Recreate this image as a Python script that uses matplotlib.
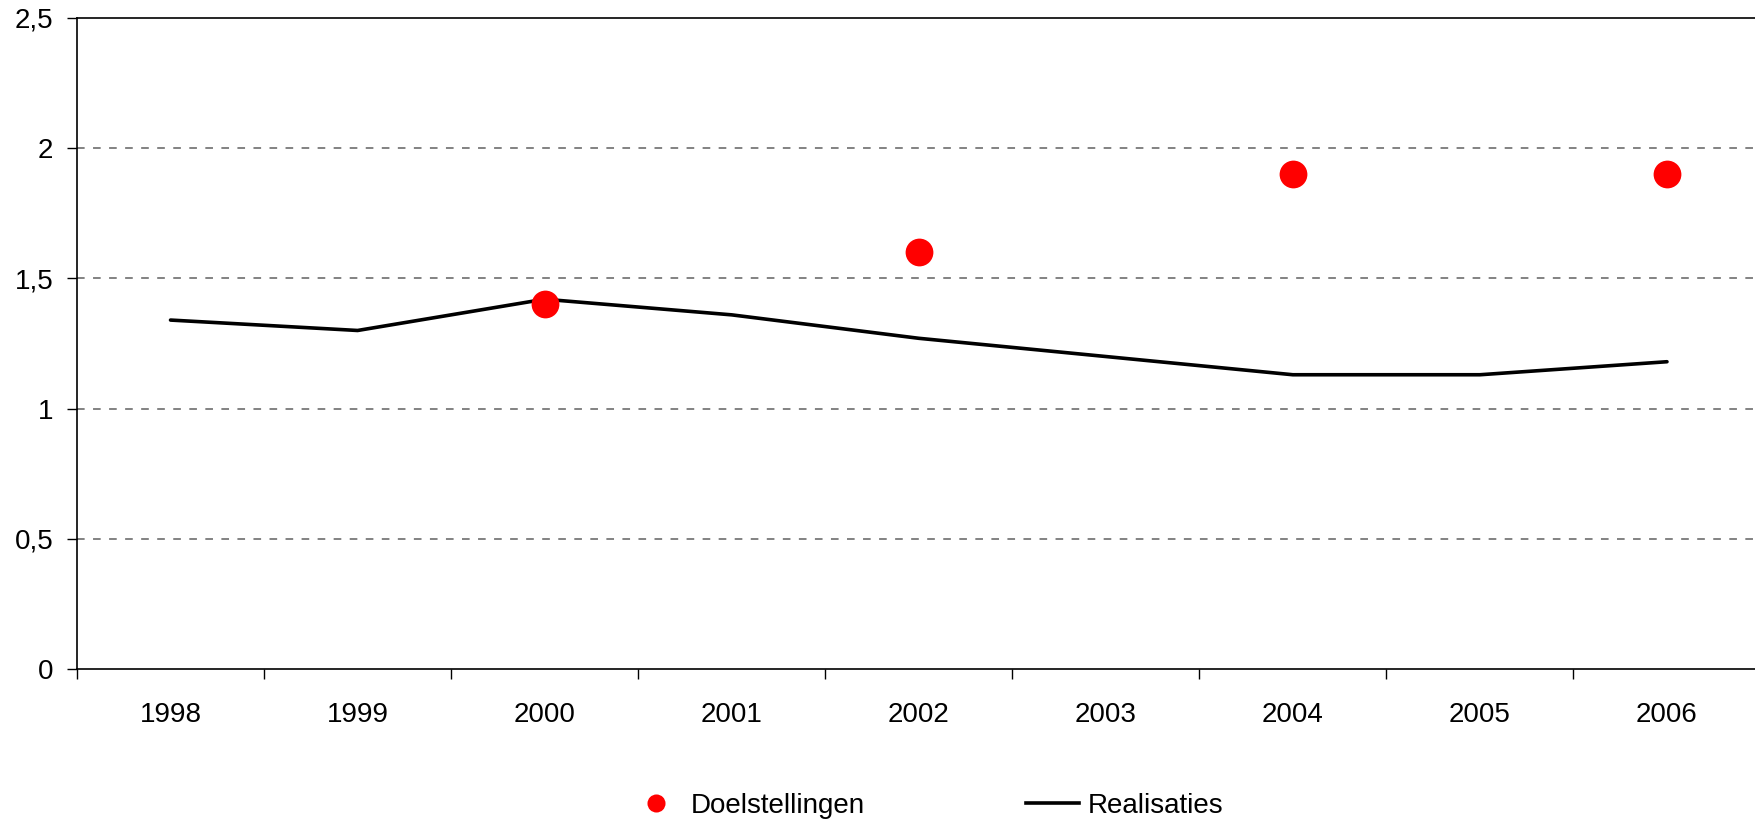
import numpy as np
import matplotlib.pyplot as plt
from matplotlib.lines import Line2D

plt.rcParams['font.family'] = ['Liberation Sans', 'DejaVu Sans']

years = ['1998', '1999', '2000', '2001', '2002', '2003', '2004', '2005', '2006']
realisaties = [1.34, 1.30, 1.42, 1.36, 1.27, 1.20, 1.13, 1.13, 1.18]
doel_years = ['2000', '2002', '2004', '2006']
doelstellingen = [1.4, 1.6, 1.9, 1.9]
y_ticks = [0, 0.5, 1, 1.5, 2, 2.5]
y_labels = ['0', '0,5', '1', '1,5', '2', '2,5']

fig = plt.figure(figsize=(17.56, 8.23), dpi=100)
ax = fig.add_axes([77 / 1756, 1 - 669 / 823, 1683.5 / 1756, 651 / 823])

x = np.arange(len(years))
doel_x = [years.index(y) for y in doel_years]

# grid lines first so the series sit on top
for yv in y_ticks[1:-1]:
    ax.axhline(yv, color='#606060', lw=1.1, ls=(0, (5, 5.5)), zorder=1)

ax.plot(x, realisaties, color='black', lw=2.6, solid_capstyle='round', zorder=3)
ax.plot(doel_x, doelstellingen, 'o', color='#ff0000', ms=20, mec='none', zorder=4)

ax.set_xlim(-0.5, len(years) - 0.5)
ax.set_ylim(0, 2.5)
ax.set_yticks(y_ticks)
ax.set_yticklabels(y_labels)
ax.set_xticks(x)
ax.set_xticklabels(years)
ax.set_xticks(np.arange(-0.5, len(years), 1), minor=True)

ax.tick_params(axis='x', which='major', length=0, pad=24, labelsize=20)
ax.tick_params(axis='x', which='minor', length=7, width=1, direction='out')
ax.tick_params(axis='y', length=7, width=1, direction='out', pad=10, labelsize=20)

for side in ['left', 'bottom', 'top']:
    ax.spines[side].set_color('black')
    ax.spines[side].set_linewidth(1.2)
ax.spines['right'].set_visible(False)

handles = [
    Line2D([], [], marker='o', color='#ff0000', ls='none', ms=13, mec='none'),
    Line2D([], [], color='black', lw=2.6),
]
fig.legend(handles, ['Doelstellingen', 'Realisaties'], loc='center left',
           bbox_to_anchor=(630 / 1756, 1 - 806 / 823), ncol=2, frameon=False,
           fontsize=20, handlelength=1.9, handletextpad=0.3, columnspacing=5.8,
           borderpad=0, borderaxespad=0)

fig.savefig('out.png', dpi=100)
